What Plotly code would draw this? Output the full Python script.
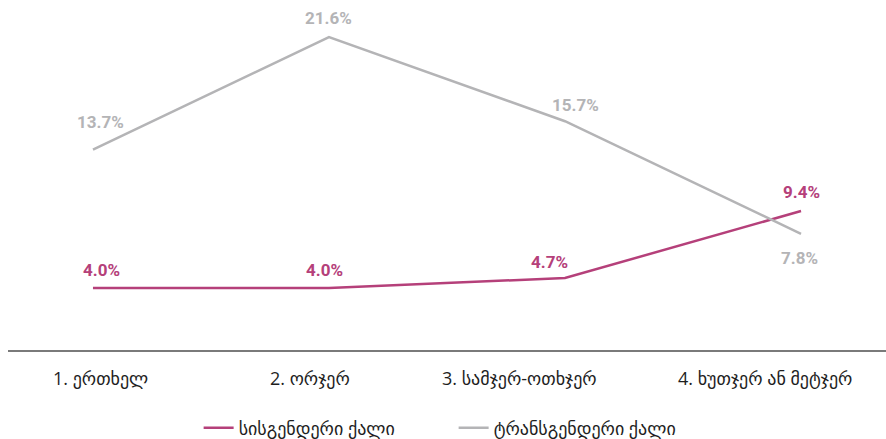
import plotly.graph_objects as go

categories = ["1. ერთხელ", "2. ორჯერ", "3. სამჯერ-ოთხჯერ", "4. ხუთჯერ ან მეტჯერ"]
cis_women = [4.0, 4.0, 4.7, 9.4]
trans_women = [13.7, 21.6, 15.7, 7.8]
series_names = ["სისგენდერი ქალი", "ტრანსგენდერი ქალი"]

PINK = "#b5407a"
GRAY = "#b4b4b6"
TXT = "#1e1e1e"
GEO_FONT = "Open Sans, DejaVu Sans"
NUM_FONT = "Roboto"

fig = go.Figure()
fig.add_trace(go.Scatter(x=categories, y=cis_women, mode="lines", name=series_names[0],
                         line=dict(color=PINK, width=2.5)))
fig.add_trace(go.Scatter(x=categories, y=trans_women, mode="lines", name=series_names[1],
                         line=dict(color=GRAY, width=2.5)))

# label offsets (style only)
cis_shift = [(9, 18), (-4, 18), (-16, 16), (0, 19)]
trans_shift = [(8, 28), (0, 19), (10, 16), (-2, -24)]
tick_shift = [8, -19, -46, -36]

for i, v in enumerate(cis_women):
    dx, dy = cis_shift[i]
    fig.add_annotation(x=categories[i], y=v, text=f"{v:.1f}%", showarrow=False,
                       xshift=dx, yshift=dy,
                       font=dict(family=NUM_FONT, size=17, color=PINK, weight="bold"))
for i, v in enumerate(trans_women):
    dx, dy = trans_shift[i]
    fig.add_annotation(x=categories[i], y=v, text=f"{v:.1f}%", showarrow=False,
                       xshift=dx, yshift=dy,
                       font=dict(family=NUM_FONT, size=17, color=GRAY, weight="bold"))

# category labels
for i, c in enumerate(categories):
    fig.add_annotation(x=c, y=0, yref="paper", text=c, showarrow=False,
                       xshift=tick_shift[i], yshift=-27, yanchor="middle",
                       font=dict(family=GEO_FONT, size=18, color=TXT))

fig.update_layout(
    width=886, height=439,
    margin=dict(l=8, r=0, t=10, b=88),
    paper_bgcolor="white", plot_bgcolor="white",
    font=dict(family=GEO_FONT, size=18, color=TXT),
    showlegend=True,
    legend=dict(orientation="h", x=0.512, xanchor="center", xref="container",
                y=0.025, yanchor="middle", yref="container",
                entrywidth=210, entrywidthmode="pixels",
                font=dict(family=GEO_FONT, size=18, color=TXT)),
    xaxis=dict(type="category", range=[-0.36, 3.36], showgrid=False, zeroline=False,
               showline=False, ticks="", showticklabels=False),
    yaxis=dict(range=[-0.42, 23.5], showgrid=False, zeroline=False, showline=False,
               showticklabels=False, ticks=""),
)
# bottom axis line
fig.add_shape(type="line", xref="paper", yref="paper", x0=0, x1=1, y0=0, y1=0,
              line=dict(color="#7a7a7a", width=2))

fig.write_html("out.html", config={"displayModeBar": False},
               post_script="document.body.style.margin='0';")
